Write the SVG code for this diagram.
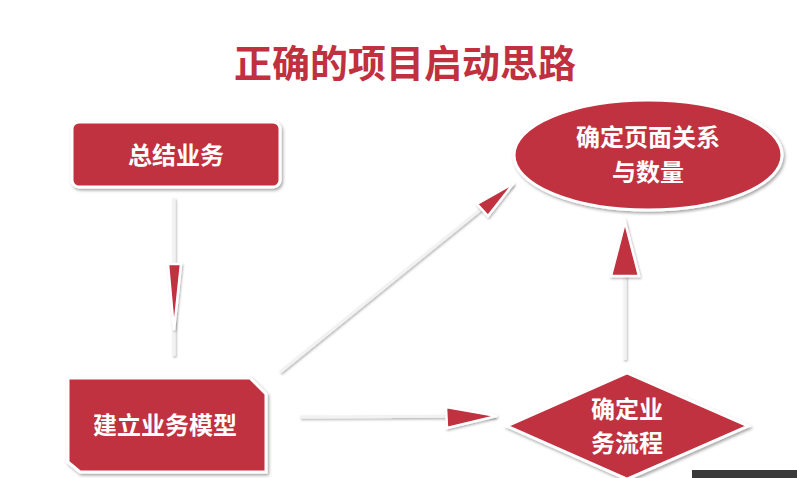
<svg xmlns="http://www.w3.org/2000/svg" width="797" height="478" viewBox="0 0 797 478">
<defs>
<filter id="sh" x="-20%" y="-20%" width="140%" height="140%"><feDropShadow dx="1.5" dy="2" stdDeviation="1.5" flood-color="#000" flood-opacity="0.35"/></filter>
<filter id="shl" filterUnits="userSpaceOnUse" x="0" y="0" width="797" height="478"><feDropShadow dx="1" dy="1.5" stdDeviation="1" flood-color="#000" flood-opacity="0.3"/></filter>
<style>
.n{fill:#c0303f;stroke:#fff;stroke-width:3;filter:url(#sh)}
.t{fill:#fff;font-family:"Noto Sans CJK SC",sans-serif;font-weight:bold;font-size:24px;text-anchor:middle}
.l{stroke:#f2f2f2;stroke-width:3;fill:none;filter:url(#shl)}
.h{fill:#c0303f;stroke:#fff;stroke-width:2.5;filter:url(#shl)}
</style>
</defs>
<rect width="797" height="478" fill="#fff"/>
<text x="405" y="77" fill="#c0303f" font-family="Noto Sans CJK SC,sans-serif" font-weight="bold" font-size="38" text-anchor="middle">正确的项目启动思路</text>
<g id="connectors">
<line class="l" x1="174" y1="198" x2="174" y2="356"/>
<polygon class="h" points="168,264 181,264 174,330"/>
<line class="l" x1="280" y1="372" x2="512" y2="184"/>
<polygon class="h" points="477,204 488,216 514,183"/>
<line class="l" x1="300" y1="417" x2="495" y2="416"/>
<polygon class="h" points="446,407 447,428 497,416"/>
<line class="l" x1="625" y1="360" x2="625" y2="224"/>
<polygon class="h" points="611,276 639,276 625,222"/>
</g>
<g id="n1"><rect class="n" x="72" y="122" width="208" height="65" rx="7"/><text class="t" x="176" y="164">总结业务</text></g>
<g id="n2"><polygon class="n" points="68,378 250,378 266,394 266,472 80,472 68,462"/><text class="t" x="165" y="434">建立业务模型</text></g>
<g id="n3"><ellipse class="n" cx="648" cy="155" rx="134" ry="55"/><text class="t" x="648" y="146">确定页面关系</text><text class="t" x="648" y="181">与数量</text></g>
<g id="n4"><polygon class="n" points="627,373 748,426 627,479 507,426"/><text class="t" x="627" y="418">确定业</text><text class="t" x="627" y="452">务流程</text></g>
<rect x="692" y="470" width="105" height="8" fill="#3a3a3a"/>
</svg>
